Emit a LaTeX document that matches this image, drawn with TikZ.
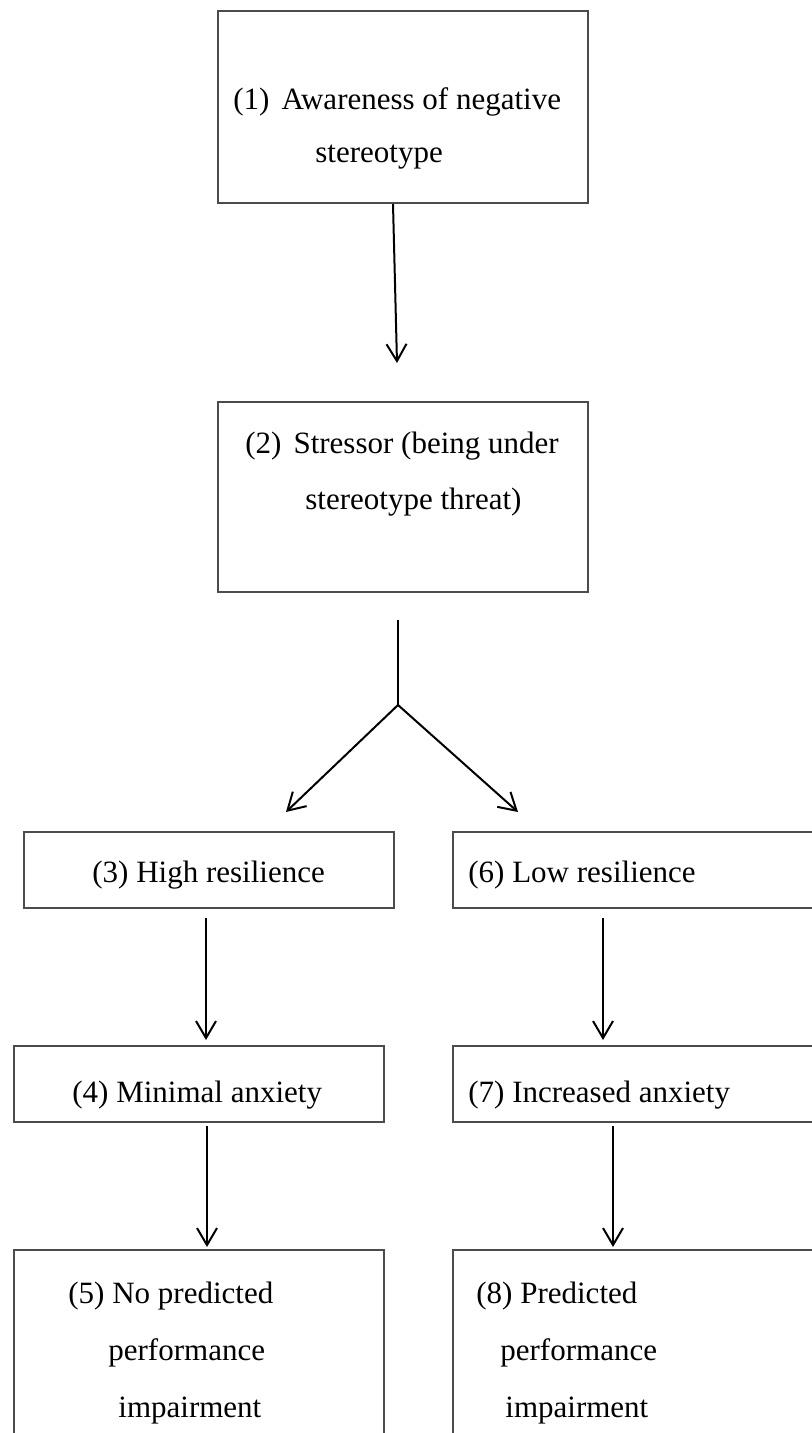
\documentclass[tikz,border=0pt]{standalone}
\usepackage{fontspec}
\setmainfont{Liberation Serif}
\usetikzlibrary{arrows.meta}

\begin{document}
\begin{tikzpicture}[x=0.5pt,y=-0.5pt,
  box/.style={draw=black!70,line width=1pt,minimum width=185pt,inner sep=0pt},
  lbl/.style={anchor=base west,inner sep=0pt,font=\fontsize{15.5}{18}\selectfont},
  arr/.style={line width=1pt,-{Straight Barb[length=8.5pt,width=10pt]}}]
  \useasboundingbox (0,0) rectangle (812,1433); %page, in pixels
  \clip (0,0) rectangle (812,1433);               %right and bottom boxes run off the page

  %Top boxes
  \node[box,minimum height=96pt] (awr) at (403,107) {};   %Box 1
  \node[lbl] (awrtxt) at (233,110) {(1)\hspace{6pt}Awareness of negative};
  \node[lbl] (awrtxtb) at (315,163) {stereotype};
  \node[box,minimum height=95pt] (strs) at (403,497) {};  %Box 2
  \node[lbl] (strstxt) at (245,453) {(2)\hspace{6pt}Stressor (being under};
  \node[lbl] (strstxtb) at (305,509) {stereotype threat)};

  %Left column
  \node[box,minimum height=38pt] (hires) at (208.5,870) {};   %Box 3
  \node[lbl] (hirestxt) at (92,882) {(3) High resilience};
  \node[box,minimum height=38pt] (minanx) at (198.5,1084) {}; %Box 4
  \node[lbl] (minanxtxt) at (72,1102) {(4) Minimal anxiety};
  \node[box,minimum height=100pt] (noimp) at (198.5,1350) {}; %Box 5
  \node[lbl] (noimptxt) at (68,1303) {(5) No predicted};
  \node[lbl] (noimptxtb) at (108,1360) {performance};
  \node[lbl] (noimptxtc) at (118,1417) {impairment};

  %Right column
  \node[box,minimum height=38pt] (lores) at (637.5,870) {};   %Box 6
  \node[lbl] (lorestxt) at (468,882) {(6) Low resilience};
  \node[box,minimum height=38pt] (incanx) at (637.5,1084) {}; %Box 7
  \node[lbl] (incanxtxt) at (468,1102) {(7) Increased anxiety};
  \node[box,minimum height=100pt] (impr) at (637.5,1350) {};  %Box 8
  \node[lbl] (imprtxt) at (476,1303) {(8) Predicted};
  \node[lbl] (imprtxtb) at (500,1360) {performance};
  \node[lbl] (imprtxtc) at (505,1417) {impairment};

  %Arrow 1 to 2
  \coordinate (c1) at (397,363);
  \draw[arr] ([xshift=-5pt]awr.south) -- (c1);

  %Fork
  \coordinate (forktop) at (398,620);
  \coordinate (fork) at (398,705);
  \coordinate (c3) at (286,812);
  \coordinate (c6) at (518,812);
  \draw[line width=1pt] (forktop) -- (fork);
  \draw[arr] (fork) -- (c3);
  \draw[arr] (fork) -- (c6);

  %Down arrows
  \coordinate (s3) at (206,918);  \coordinate (e3) at (206,1040);
  \coordinate (s6) at (603,918);  \coordinate (e6) at (603,1040);
  \coordinate (s4) at (207,1126); \coordinate (e4) at (207,1247);
  \coordinate (s7) at (613,1126); \coordinate (e7) at (613,1247);
  \draw[arr] (s3) -- (e3);
  \draw[arr] (s6) -- (e6);
  \draw[arr] (s4) -- (e4);
  \draw[arr] (s7) -- (e7);
\end{tikzpicture}
\end{document}
